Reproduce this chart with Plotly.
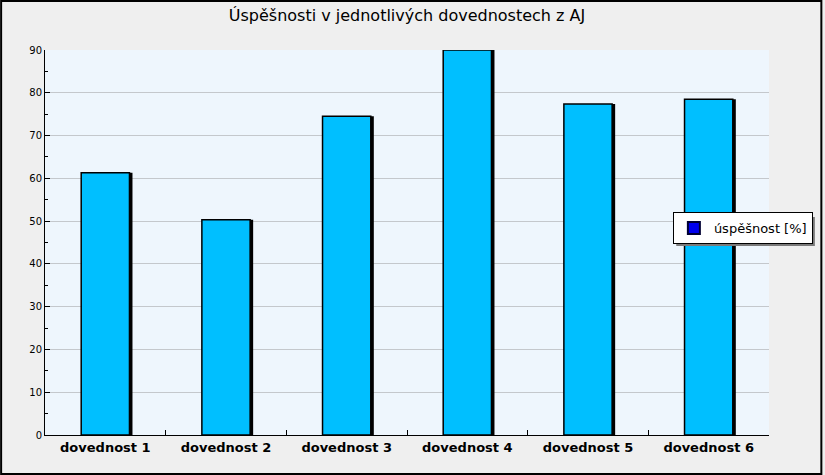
import plotly.graph_objects as go

# data
categories = ["dovednost 1", "dovednost 2", "dovednost 3",
              "dovednost 4", "dovednost 5", "dovednost 6"]
uspesnost = [61.3, 50.3, 74.5, 90.0, 77.4, 78.5]
y_ticks = [0, 10, 20, 30, 40, 50, 60, 70, 80, 90]

title_text = "Úspěšnosti v jednotlivých dovednostech z AJ"
series_name = "úspěšnost [%]"

# layout sizes (pixels)
W, H = 825, 475
L, R, T, B = 45, 54, 50, 40
pw, ph = W - L - R, H - T - B
bar_w = 0.4

fig = go.Figure()

# black "shadow" behind each bar, shifted a bit to the right
fig.add_trace(go.Bar(
    x=categories, y=uspesnost,
    width=bar_w, offset=-bar_w / 2 + 0.025,
    marker=dict(color="black", line=dict(width=0)),
    showlegend=False, hoverinfo="skip",
))

# the actual bars
fig.add_trace(go.Bar(
    x=categories, y=uspesnost,
    width=bar_w, offset=-bar_w / 2,
    marker=dict(color="#00bfff", line=dict(color="black", width=1.5)),
    name=series_name, showlegend=False,
))

# legend entry (blue square like the original)
fig.add_trace(go.Scatter(
    x=[None], y=[None], mode="markers", name=series_name,
    marker=dict(symbol="square", size=10, color="#0000ee",
                line=dict(color="#000033", width=1)),
))

fig.update_layout(
    width=W, height=H,
    autosize=False,
    margin=dict(l=L, r=R, t=T, b=B),
    paper_bgcolor="#efefef",
    plot_bgcolor="#eef6fd",
    barmode="overlay",
    font=dict(family="DejaVu Sans", color="black"),
    title=dict(text=title_text, x=0.5, xref="paper", xanchor="center",
               y=1 - 15 / H, yanchor="middle",
               font=dict(size=16, family="DejaVu Sans", color="black")),
    legend=dict(
        x=(815 - L) / pw, y=(435 - 212) / ph, xanchor="right", yanchor="top",
        bgcolor="white", bordercolor="black", borderwidth=1,
        font=dict(size=13, family="DejaVu Sans"),
        itemsizing="constant", itemwidth=30,
    ),
    showlegend=True,
)

fig.update_xaxes(
    showgrid=False, showline=True, linecolor="black", linewidth=1,
    ticks="inside", tickson="boundaries", ticklen=5, tickcolor="black",
    tickfont=dict(size=13, family="DejaVu Sans", weight="bold"),
    fixedrange=True,
)
fig.update_yaxes(
    range=[0, 90], tickvals=y_ticks,
    showgrid=True, gridcolor="#c4c8cc", gridwidth=1,
    showline=True, linecolor="black", linewidth=1,
    ticks="inside", ticklen=5, tickcolor="black",
    minor=dict(dtick=5, ticks="inside", ticklen=3, tickcolor="black", showgrid=False),
    tickfont=dict(size=10, family="DejaVu Sans"),
    zeroline=False, fixedrange=True,
)

# legend shadow
fig.add_shape(type="rect", xref="paper", yref="paper", layer="above",
              x0=(678 - L) / pw, x1=(817 - L) / pw,
              y0=(435 - 246) / ph, y1=(435 - 217) / ph,
              fillcolor="#7a7a7a", line=dict(width=0))

# outer border of the whole picture
fig.add_shape(type="rect", xref="paper", yref="paper", layer="above",
              x0=-L / pw + 1 / pw, x1=1 + (R - 1.5) / pw,
              y0=-B / ph + 1 / ph, y1=1 + (T - 1) / ph,
              line=dict(color="black", width=2))

fig.write_html(
    "out.html",
    config={"displayModeBar": False, "responsive": False},
    post_script="document.body.style.margin='0';"
                "document.body.style.overflow='hidden';"
                "Plotly.relayout('{plot_id}', {width: 825, height: 475});",
)
